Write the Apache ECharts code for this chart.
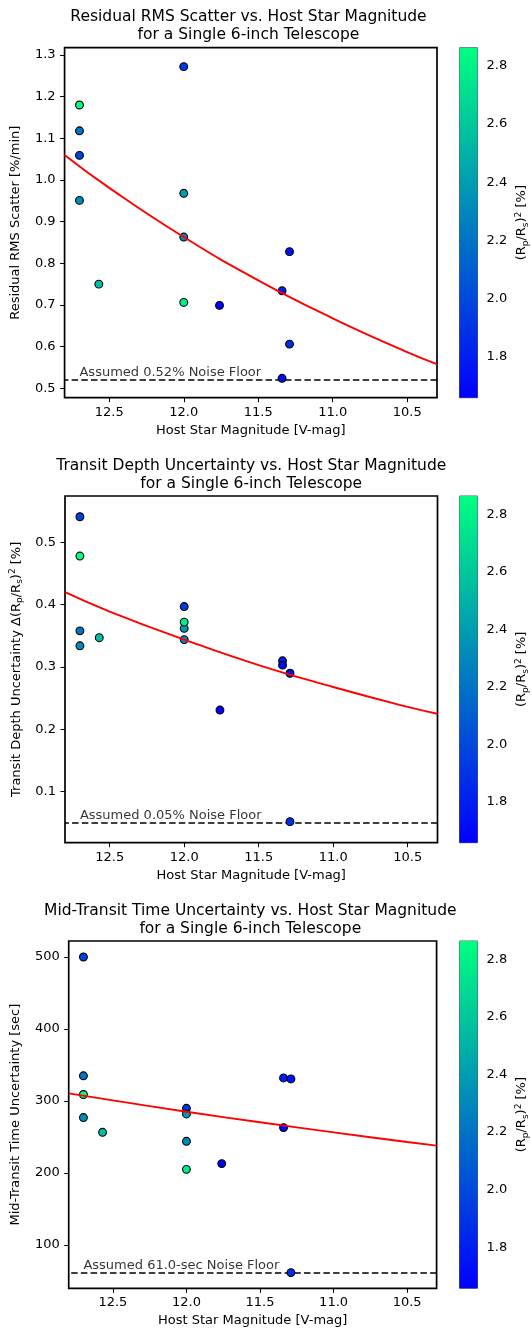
<!DOCTYPE html>
<html>
<head>
<meta charset="utf-8">
<script src="https://cdn.jsdelivr.net/npm/echarts@6/dist/echarts.min.js"></script>
<style>
  html, body { margin: 0; padding: 0; background: #ffffff; }
  #chart { width: 532px; height: 1329px; }
</style>
</head>
<body>
<div id="chart"></div>
<script>
// ---- data: one entry per observed planet host ----
const hostMag    = [12.7, 12.7, 12.7, 12.7, 12.57, 12.0, 12.0, 12.0, 12.0, 11.76, 11.34, 11.34, 11.29, 11.29];
const depthPct   = [2.863, 2.20, 1.97, 2.33, 2.56, 1.93, 2.40, 2.30, 2.78, 1.658, 1.80, 1.72, 1.75, 1.88];
const rmsScatter = [1.180, 1.118, 1.059, 0.951, 0.750, 1.272, 0.968, 0.863, 0.706, 0.699, 0.734, 0.524, 0.828, 0.606];
const depthUnc   = [0.478, 0.358, 0.541, 0.334, 0.347, 0.397, 0.362, 0.344, 0.372, 0.231, 0.310, 0.303, 0.290, 0.052];
const midTimeUnc = [309, 335, 500, 277, 256.5, 289.8, 282, 244, 205, 213, 332, 263, 330.6, 61.6];

// ---- fitted trends, sampled along the magnitude axis ----
const fitMag   = [12.8, 12.5, 12.0, 11.5, 11.0, 10.5, 10.3];
const rmsFit   = [1.060, 0.981, 0.863, 0.759, 0.668, 0.587, 0.558];
const depthFit = [0.420, 0.389, 0.344, 0.303, 0.268, 0.236, 0.225];
const timeFit  = [310.6, 300.8, 285.1, 270.4, 256.4, 243.1, 238.0];

// ---- noise floors ----
const noiseFloor = [0.52, 0.05, 61.0];
const floorText = ['Assumed 0.52% Noise Floor', 'Assumed 0.05% Noise Floor', 'Assumed 61.0-sec Noise Floor'];
const floorTextMag = 12.7;

// ---- axes ----
const magRange   = [10.3, 12.8];
const magTicks   = [10.5, 11.0, 11.5, 12.0, 12.5];
const rmsRange   = [0.4774, 1.3175];
const rmsTicks   = [0.5, 0.6, 0.7, 0.8, 0.9, 1.0, 1.1, 1.2, 1.3];
const depthRange = [0.0182, 0.5743];
const depthTicks = [0.1, 0.2, 0.3, 0.4, 0.5];
const timeRange  = [39.8, 522.2];
const timeTicks  = [100, 200, 300, 400, 500];
const cbTicks    = [1.8, 2.0, 2.2, 2.4, 2.6, 2.8];
const cbRange    = [Math.min(...depthPct), Math.max(...depthPct)];

const titles = [
  'Residual RMS Scatter vs. Host Star Magnitude\nfor a Single 6-inch Telescope',
  'Transit Depth Uncertainty vs. Host Star Magnitude\nfor a Single 6-inch Telescope',
  'Mid-Transit Time Uncertainty vs. Host Star Magnitude\nfor a Single 6-inch Telescope'
];
const yNames = [
  'Residual RMS Scatter [%/min]',
  'Transit Depth Uncertainty \u0394(R{sub|p}/R{sub|s}){sup|2} [%]',
  'Mid-Transit Time Uncertainty [sec]'
];
const xName = 'Host Star Magnitude [V-mag]';
const cbName = '(R{sub|p}/R{sub|s}){sup|2} [%]';

// ---- page layout (pixels) ----
const FONT = 'DejaVu Sans';
const layout = [
  { left: 60, top: 47.7, width: 377,   height: 350,   titleTop: 8,     yGap: 35 },
  { left: 65, top: 496,  width: 372.5, height: 346.7, titleTop: 457,   yGap: 36 },
  { left: 64, top: 941,  width: 372.6, height: 347.3, titleTop: 902,   yGap: 38 }
];
const cbLeft = 459.5, cbWidth = 18;

const richScript = {
  sub: { fontSize: 9, fontFamily: FONT, color: '#000', verticalAlign: 'bottom', lineHeight: 10 },
  sup: { fontSize: 9, fontFamily: FONT, color: '#000', verticalAlign: 'top', lineHeight: 10 }
};

const panelValues = [rmsScatter, depthUnc, midTimeUnc];
const panelFits = [rmsFit, depthFit, timeFit];
const panelRanges = [rmsRange, depthRange, timeRange];
const panelTicks = [rmsTicks, depthTicks, timeTicks];
const panelDecimals = [1, 1, 0];

const grid = [], xAxis = [], yAxis = [], series = [], title = [];
const scatterIdx = [];

const tickStyle = { show: true, inside: false, length: 4.5, lineStyle: { color: '#000', width: 1 } };

layout.forEach((L, k) => {
  title.push({
    text: titles[k], left: L.left + L.width / 2, top: L.titleTop, textAlign: 'center', padding: 0,
    textStyle: { fontFamily: FONT, fontSize: 15.5, fontWeight: 'normal', color: '#000', lineHeight: 18 }
  });

  // main plot
  grid.push({ left: L.left, top: L.top, width: L.width, height: L.height, show: true,
              borderColor: '#000', borderWidth: 1.7, backgroundColor: 'transparent', containLabel: false });
  // colour bar
  grid.push({ left: cbLeft, top: L.top, width: cbWidth, height: L.height, show: true,
              borderColor: '#333', borderWidth: 0.8, backgroundColor: 'transparent', containLabel: false });

  const gMain = 2 * k, gBar = 2 * k + 1;

  xAxis.push({
    gridIndex: gMain, type: 'value', min: magRange[0], max: magRange[1], inverse: true,
    name: xName, nameLocation: 'middle', nameGap: 26,
    nameTextStyle: { fontFamily: FONT, fontSize: 13, color: '#000' },
    axisLine: { show: false }, splitLine: { show: false },
    axisTick: Object.assign({ customValues: magTicks }, tickStyle),
    axisLabel: { customValues: magTicks, margin: 8, fontFamily: FONT, fontSize: 13, color: '#000',
                 formatter: v => v.toFixed(1) }
  });
  yAxis.push({
    gridIndex: gMain, type: 'value', min: panelRanges[k][0], max: panelRanges[k][1],
    name: yNames[k], nameLocation: 'middle', nameGap: L.yGap,
    nameTextStyle: { fontFamily: FONT, fontSize: 13, color: '#000', lineHeight: 16, rich: richScript },
    axisLine: { show: false }, splitLine: { show: false },
    axisTick: Object.assign({ customValues: panelTicks[k] }, tickStyle),
    axisLabel: { customValues: panelTicks[k], margin: 9, fontFamily: FONT, fontSize: 13, color: '#000',
                 formatter: v => v.toFixed(panelDecimals[k]) }
  });

  xAxis.push({ gridIndex: gBar, type: 'value', min: 0, max: 1, show: false });
  yAxis.push({
    gridIndex: gBar, type: 'value', position: 'right', min: cbRange[0], max: cbRange[1],
    name: cbName, nameLocation: 'middle', nameGap: 36.5,
    nameTextStyle: { fontFamily: FONT, fontSize: 13, color: '#000', lineHeight: 16, rich: richScript },
    axisLine: { show: false }, splitLine: { show: false },
    axisTick: Object.assign({ customValues: cbTicks }, tickStyle),
    axisLabel: { customValues: cbTicks, margin: 9, fontFamily: FONT, fontSize: 13, color: '#000',
                 formatter: v => v.toFixed(1) }
  });

  const xi = 2 * k, xb = 2 * k + 1;

  // colour bar gradient
  series.push({
    type: 'custom', xAxisIndex: xb, yAxisIndex: xb, silent: true,
    data: [[0, cbRange[0]]],
    renderItem: (params, api) => {
      const p0 = api.coord([0, cbRange[0]]);
      const p1 = api.coord([1, cbRange[1]]);
      return {
        type: 'rect',
        shape: { x: p0[0], y: p1[1], width: p1[0] - p0[0], height: p0[1] - p1[1] },
        style: { fill: new echarts.graphic.LinearGradient(0, 1, 0, 0, [
          { offset: 0, color: '#0000ff' }, { offset: 1, color: '#00ff80' }
        ]) }
      };
    }
  });

  // noise floor line and its caption
  series.push({
    type: 'scatter', xAxisIndex: xi, yAxisIndex: xi, z: 5, silent: true,
    symbolSize: 0,
    data: [[floorTextMag, noiseFloor[k]]],
    label: { show: true, position: 'top', align: 'left', distance: 1, formatter: floorText[k],
             fontFamily: FONT, fontSize: 13, color: '#000' },
    markLine: {
      z: 1, silent: true, symbol: 'none', animation: false,
      label: { show: false },
      lineStyle: { color: '#000', width: 1.7, type: [6.5, 3.2] },
      data: [{ yAxis: noiseFloor[k] }]
    }
  });

  // measurements coloured by transit depth
  scatterIdx.push(series.length);
  series.push({
    type: 'scatter', xAxisIndex: xi, yAxisIndex: xi, z: 3,
    symbol: 'circle', symbolSize: 7.8,
    itemStyle: { borderColor: '#000', borderWidth: 1.1, opacity: 1 },
    data: hostMag.map((m, i) => [m, panelValues[k][i], depthPct[i]])
  });

  // trend
  series.push({
    type: 'line', xAxisIndex: xi, yAxisIndex: xi, z: 4, smooth: true, showSymbol: false,
    lineStyle: { color: '#ff0000', width: 1.9 },
    data: fitMag.map((m, i) => [m, panelFits[k][i]])
  });
});

const chart = echarts.init(document.getElementById('chart'), null, { renderer: 'canvas' });
chart.setOption({
  animation: false,
  backgroundColor: '#ffffff',
  title, grid, xAxis, yAxis, series,
  visualMap: [{
    type: 'continuous', show: false, dimension: 2, seriesIndex: scatterIdx,
    min: cbRange[0], max: cbRange[1],
    inRange: { color: ['#0000ff', '#00ff80'] }
  }]
});
</script>
</body>
</html>
